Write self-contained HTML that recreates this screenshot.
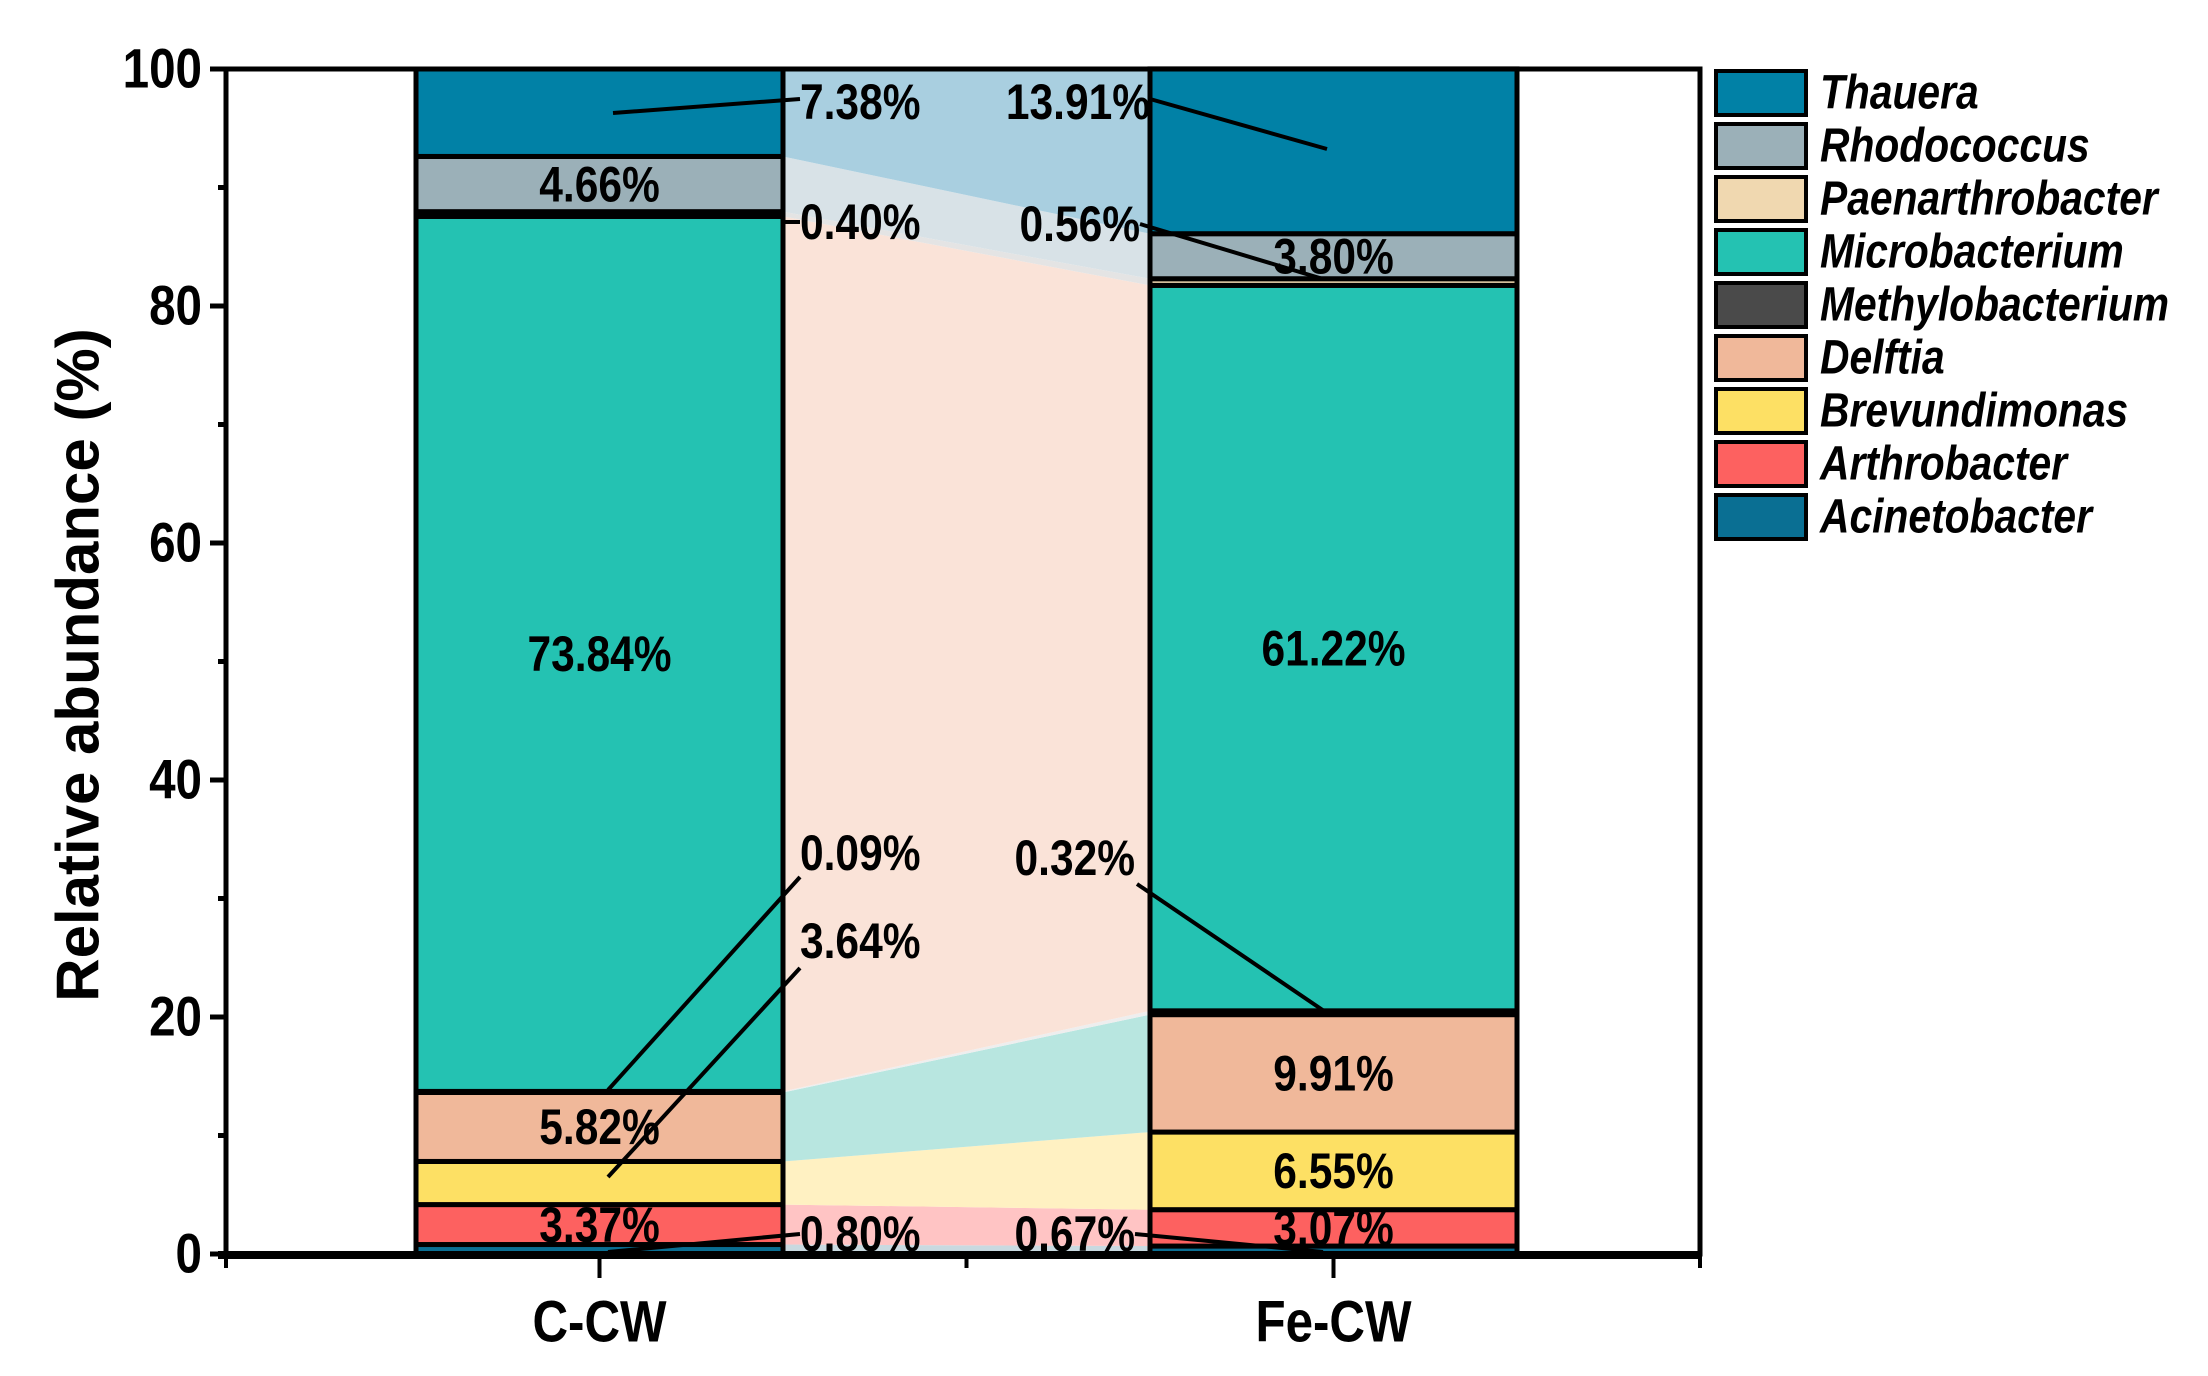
<!DOCTYPE html>
<html><head><meta charset="utf-8"><style>
html,body{margin:0;padding:0;background:#fff;}
svg{display:block;}
text{font-family:"Liberation Sans",sans-serif;font-weight:bold;fill:#000;}
</style></head><body>
<svg id="chart" width="2208" height="1376" viewBox="0 0 2208 1376" xmlns="http://www.w3.org/2000/svg"></svg>
<script>
const categories = ["C-CW", "Fe-CW"];
const series = ["Acinetobacter","Arthrobacter","Brevundimonas","Delftia","Methylobacterium","Microbacterium","Paenarthrobacter","Rhodococcus","Thauera"];
const valuesC = [0.80, 3.37, 3.64, 5.82, 0.09, 73.84, 0.40, 4.66, 7.38];
const valuesFe = [0.67, 3.07, 6.55, 9.91, 0.32, 61.22, 0.56, 3.80, 13.91];
const yTicks = [0, 20, 40, 60, 80, 100];
const colors = ["#0a6f93","#fd6160","#fde064","#f0b89a","#4a4a4a","#24c2b2","#f0d8b0","#9bb0b8","#0181a6"];
const bandColors = ["#c9d9e0","#ffc4c4","#fff1c2","#b8e6e0","#eeeeee","#fae3d8","#e4e4e4","#d8e2e7","#a9cfe0"];
const legendOrder = ["Thauera","Rhodococcus","Paenarthrobacter","Microbacterium","Methylobacterium","Delftia","Brevundimonas","Arthrobacter","Acinetobacter"];

const NS = "http://www.w3.org/2000/svg";
const svg = document.getElementById("chart");
const L = 226, R = 1700, T = 69, B = 1254;
const Y = v => B - v / 100 * (B - T);
const barX = [416, 1150], barW = 367;
function mk(tag, attrs, parent) {
  const e = document.createElementNS(NS, tag);
  for (const k in attrs) e.setAttribute(k, attrs[k]);
  (parent || svg).appendChild(e);
  return e;
}
function txt(s, x, y, size, anchor, italic, sx) {
  const t = mk("text", {transform: `translate(${x},${y}) scale(${sx||0.85},1)`, "font-size": size, "text-anchor": anchor || "middle", "dominant-baseline": "central"});
  if (italic) t.setAttribute("font-style", "italic");
  t.textContent = s;
  return t;
}
const allVals = [valuesC, valuesFe];
const cum = allVals.map(v => { let c = [0]; v.forEach(x => c.push(c[c.length-1] + x)); return c; });

for (let i = 0; i < series.length; i++) {
  const x1 = barX[0] + barW, x2 = barX[1];
  const p = mk("polygon", {points: `${x1},${Y(cum[0][i])} ${x1},${Y(cum[0][i+1])} ${x2},${Y(cum[1][i+1])} ${x2},${Y(cum[1][i])}`, fill: bandColors[i]});
  
  
}
for (let b = 0; b < 2; b++) {
  for (let i = 0; i < series.length; i++) {
    const y1 = Y(cum[b][i+1]), y0 = Y(cum[b][i]);
    const r = mk("rect", {x: barX[b], y: y1, width: barW, height: Math.max(0.5, y0 - y1), fill: colors[i], stroke: "#000", "stroke-width": 5});
    
    
  }
}
const inside = [[0,1],[0,3],[0,5],[0,7],[1,1],[1,2],[1,3],[1,5],[1,7]];
inside.forEach(([b, i]) => {
  const v = allVals[b][i];
  const t = txt(v.toFixed(2) + "%", barX[b] + barW/2, (Y(cum[b][i]) + Y(cum[b][i+1]))/2, 50);
  
  
});
const outside = [
 [0,8,800,102,"start",613,113,800,99],
 [0,6,800,222,"start",783,222,800,222],
 [0,4,800,853,"start",608,1090,800,877],
 [0,2,800,941,"start",608,1177,800,968],
 [0,0,800,1234,"start",608,1252,800,1234],
 [1,8,1150,102,"end",1150,99,1327,149],
 [1,6,1140,224,"end",1140,224,1323,279],
 [1,4,1135,858,"end",1137,884,1327,1013],
 [1,0,1135,1234,"end",1135,1234,1323,1252]
];
outside.forEach(o => {
  const ln = mk("line", {x1:o[5], y1:o[6], x2:o[7], y2:o[8], stroke:"#000", "stroke-width":4});
  
  
  const t = txt(allVals[o[0]][o[1]].toFixed(2) + "%", o[2], o[3], 50, o[4]);
  
  
});
const fr = mk("rect", {x:L, y:T, width:R-L, height:B-T, fill:"none", stroke:"#000", "stroke-width":5});


const xa = mk("line", {x1:L-8, y1:B+1, x2:R+2, y2:B+1, stroke:"#000", "stroke-width":8});


for (let v = 0; v <= 100; v += 10) {
  const major = v % 20 === 0;
  const tk = mk("line", {x1:L - (major ? 16 : 8), y1:Y(v), x2:L, y2:Y(v), stroke:"#000", "stroke-width":5});
  
  
}
yTicks.forEach(v => {
  const t = txt(String(v), L - 24, Y(v), 56, "end");
  
  
});
[L, (barX[0]+barW+barX[1])/2, R].forEach(x => {
  const tk = mk("line", {x1:x, y1:B, x2:x, y2:B+14, stroke:"#000", "stroke-width":4});
  
  
});
categories.forEach((c, b) => {
  const cx = barX[b] + barW/2;
  const tk = mk("line", {x1:cx, y1:B, x2:cx, y2:B+24, stroke:"#000", "stroke-width":4});
  
  
  const t = txt(c, cx, 1322, 58);
  
  
});
const yt = mk("text", {transform:`translate(78,665) rotate(-90)`, "font-size":60, "text-anchor":"middle", "dominant-baseline":"central"});
yt.textContent = "Relative abundance (%)";


legendOrder.forEach((s, k) => {
  const i = series.indexOf(s);
  const y = 71 + k * 53;
  const sw = mk("rect", {x:1716, y:y, width:90, height:44, fill:colors[i], stroke:"#000", "stroke-width":4});
  
  
  const t = txt(s, 1820, y + 22, 48, "start", true);
  
  
});
</script>
</body></html>
